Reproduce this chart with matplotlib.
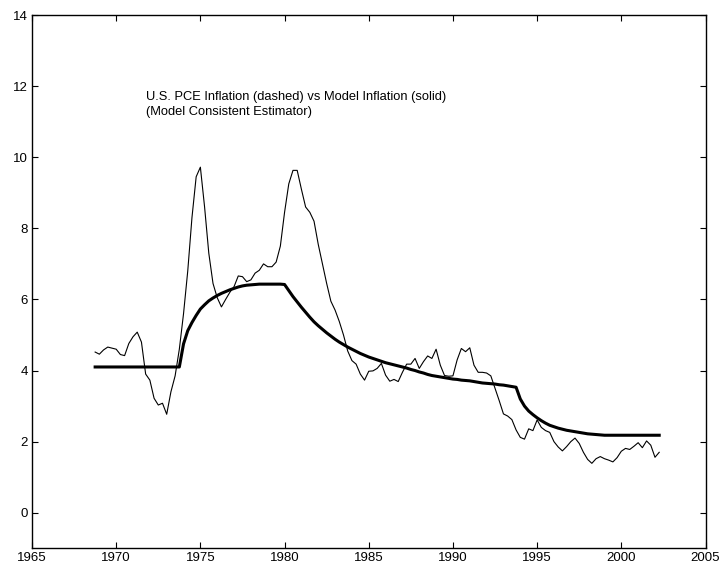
import numpy as np
import matplotlib
matplotlib.use("Agg")
import matplotlib.pyplot as plt

# quarterly series, first quarter 1968.75
start = 1968.75

# U.S. PCE inflation (thin line)
pce = [4.52, 4.46, 4.58, 4.66, 4.63, 4.60, 4.45, 4.42, 4.76, 4.95,
       5.08, 4.80, 3.90, 3.73, 3.22, 3.03, 3.08, 2.77, 3.40, 3.85,
       4.60, 5.60, 6.80, 8.30, 9.45, 9.72, 8.60, 7.30, 6.45, 6.05,
       5.79, 6.00, 6.20, 6.36, 6.66, 6.64, 6.50, 6.55, 6.74, 6.82,
       7.00, 6.92, 6.92, 7.05, 7.50, 8.45, 9.25, 9.63, 9.63, 9.10,
       8.60, 8.45, 8.20, 7.55, 7.00, 6.45, 5.95, 5.70, 5.38, 5.00,
       4.55, 4.28, 4.18, 3.90, 3.73, 3.98, 3.99, 4.06, 4.20, 3.87,
       3.70, 3.75, 3.69, 3.95, 4.18, 4.18, 4.34, 4.06, 4.25, 4.41,
       4.34, 4.60, 4.15, 3.86, 3.84, 3.85, 4.30, 4.62, 4.53, 4.64,
       4.15, 3.95, 3.95, 3.93, 3.85, 3.50, 3.15, 2.78, 2.72, 2.62,
       2.33, 2.12, 2.07, 2.36, 2.31, 2.61, 2.40, 2.31, 2.26, 2.00,
       1.85, 1.74, 1.86, 2.00, 2.10, 1.95, 1.70, 1.50, 1.39, 1.52,
       1.58, 1.52, 1.48, 1.43, 1.55, 1.73, 1.81, 1.78, 1.87, 1.97,
       1.83, 2.02, 1.90, 1.56, 1.70]

# model inflation (bold line)
model = [4.10, 4.10, 4.10, 4.10, 4.10, 4.10, 4.10, 4.10, 4.10, 4.10,
         4.10, 4.10, 4.10, 4.10, 4.10, 4.10, 4.10, 4.10, 4.10, 4.10,
         4.10, 4.75, 5.12, 5.35, 5.55, 5.73, 5.85, 5.96, 6.04, 6.11,
         6.17, 6.22, 6.27, 6.31, 6.35, 6.38, 6.40, 6.41, 6.42, 6.43,
         6.43, 6.43, 6.43, 6.43, 6.43, 6.42, 6.25, 6.08, 5.93, 5.78,
         5.64, 5.50, 5.37, 5.26, 5.16, 5.06, 4.97, 4.88, 4.80, 4.73,
         4.66, 4.60, 4.54, 4.48, 4.43, 4.38, 4.34, 4.30, 4.26, 4.22,
         4.19, 4.16, 4.13, 4.10, 4.07, 4.03, 4.00, 3.96, 3.93, 3.89,
         3.86, 3.84, 3.82, 3.80, 3.78, 3.76, 3.75, 3.73, 3.72, 3.71,
         3.69, 3.67, 3.65, 3.64, 3.63, 3.62, 3.60, 3.59, 3.57, 3.55,
         3.53, 3.20, 3.00, 2.86, 2.76, 2.67, 2.59, 2.52, 2.46, 2.42,
         2.38, 2.35, 2.32, 2.30, 2.28, 2.26, 2.24, 2.22, 2.21, 2.20,
         2.19, 2.18, 2.18, 2.18, 2.18, 2.18, 2.18, 2.18, 2.18, 2.18,
         2.18, 2.18, 2.18, 2.18, 2.18]

xticks = [1965, 1970, 1975, 1980, 1985, 1990, 1995, 2000, 2005]
yticks = [0, 2, 4, 6, 8, 10, 12, 14]

plt.rcParams['font.family'] = ['Liberation Sans', 'DejaVu Sans']

fig = plt.figure(figsize=(7.22, 5.71), dpi=100)
ax = fig.add_axes([32 / 722, 1 - 548.3 / 571, (705.5 - 32) / 722, (548.3 - 15) / 571])

x_pce = start + 0.25 * np.arange(len(pce))
x_model = start + 0.25 * np.arange(len(model))
ax.plot(x_pce, pce, color='black', lw=0.8)
ax.plot(x_model, model, color='black', lw=2.2)

ax.set_xlim(1965, 2005)
ax.set_ylim(-1, 14)
ax.set_xticks(xticks)
ax.set_yticks(yticks)
ax.tick_params(direction='in', length=4, width=0.8, labelsize=9.5,
               top=True, right=True, pad=3)
for s in ax.spines.values():
    s.set_linewidth(1.0)

# two-line note inside the plot
ax.text(1971.8, 11.70, 'U.S. PCE Inflation (dashed) vs Model Inflation (solid)',
        fontsize=9.3, va='center', ha='left')
ax.text(1971.8, 11.28, '(Model Consistent Estimator)',
        fontsize=9.3, va='center', ha='left')

fig.savefig('out.png', dpi=100)
